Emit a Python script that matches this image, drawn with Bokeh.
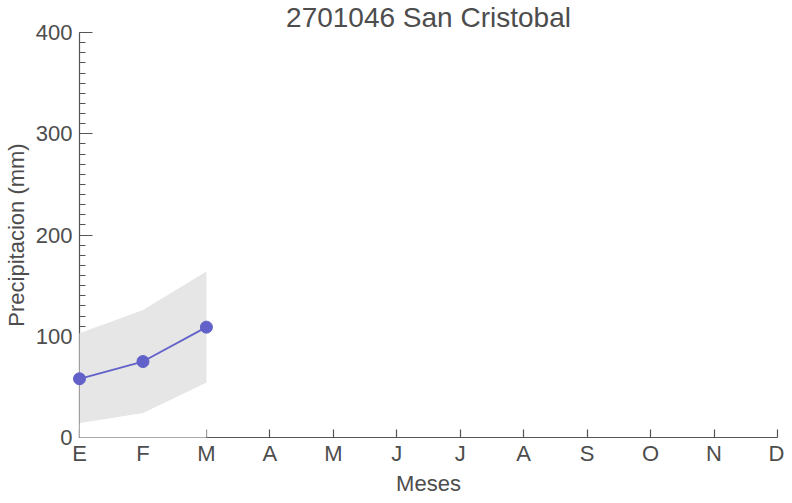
from bokeh.plotting import figure
from bokeh.models import Range1d, FixedTicker, ColumnDataSource, Title
from bokeh.embed import file_html
from bokeh.resources import INLINE

# ---- data ----
months = ["E", "F", "M", "A", "M", "J", "J", "A", "S", "O", "N", "D"]
month_pos = list(range(12))
obs_pos = [0, 1, 2]
precip_mean = [58, 75, 109]
precip_low = [14, 24, 54]
precip_high = [103, 126, 164]
zero_line = [0, 0, 0]
y_major = [0, 100, 200, 300, 400]
y_minor = list(range(0, 401, 10))

FONT = "Liberation Sans"
TXT = "#4d4d4d"
AX = "#555555"

src = ColumnDataSource(dict(x=obs_pos, mean=precip_mean, low=precip_low,
                            high=precip_high, zero=zero_line))

p = figure(width=784, height=495, output_backend="svg", toolbar_location=None,
           x_range=Range1d(0, 11), y_range=Range1d(0, 400),
           title="2701046 San Cristobal", min_border_left=79,
           min_border_right=7, min_border_top=0, min_border_bottom=0)

p.title.align = "center"
p.title.text_font = FONT
p.title.text_font_size = "28px"
p.title.text_font_style = "normal"
p.title.text_color = TXT
p.title.standoff = -1
p.title.offset = 0

p.xgrid.visible = False
p.ygrid.visible = False
p.outline_line_color = None
p.background_fill_color = "white"
p.border_fill_color = "white"

# band and white area below it (drawn over the axes as in the reference)
band = p.varea(x="x", y1="low", y2="high", source=src, fill_color="#e6e6e6")
white = p.varea(x="x", y1="zero", y2="low", source=src, fill_color="white")
ln = p.line(x="x", y="mean", source=src, line_color="#6161c9", line_width=1.8)
pts = p.scatter(x="x", y="mean", source=src, size=12, fill_color="#6161c9",
                line_color="#6161c9")
for r in (band, white, ln, pts):
    r.level = "overlay"

# x axis
xa = p.xaxis[0]
xa.ticker = FixedTicker(ticks=month_pos)
xa.major_label_overrides = {i: m for i, m in zip(month_pos, months)}
xa.major_tick_in = 8
xa.major_tick_out = 0
xa.minor_tick_in = 0
xa.minor_tick_out = 0
xa.major_label_standoff = 3

xlab = Title(text="Meses", align="center", text_font=FONT, text_font_size="22px",
             text_font_style="normal", text_color=TXT, standoff=0)
p.add_layout(xlab, "below")

# y axis
ya = p.yaxis[0]
ya.ticker = FixedTicker(ticks=y_major, minor_ticks=y_minor)
ya.axis_label = "Precipitacion (mm)"
ya.major_tick_in = 13
ya.major_tick_out = 0
ya.minor_tick_in = 6
ya.minor_tick_out = 0
ya.major_label_standoff = 7
ya.axis_label_standoff = 4

for ax in (xa, ya):
    ax.axis_line_color = AX
    ax.axis_line_width = 1.2
    ax.major_tick_line_color = AX
    ax.minor_tick_line_color = AX
    ax.major_tick_line_width = 1.2
    ax.minor_tick_line_width = 1.2
    ax.major_label_text_font = FONT
    ax.major_label_text_font_size = "22px"
    ax.major_label_text_color = TXT
    ax.axis_label_text_font = FONT
    ax.axis_label_text_font_size = "22px"
    ax.axis_label_text_font_style = "normal"
    ax.axis_label_text_color = TXT

open("out.html", "w").write(file_html(p, INLINE))
